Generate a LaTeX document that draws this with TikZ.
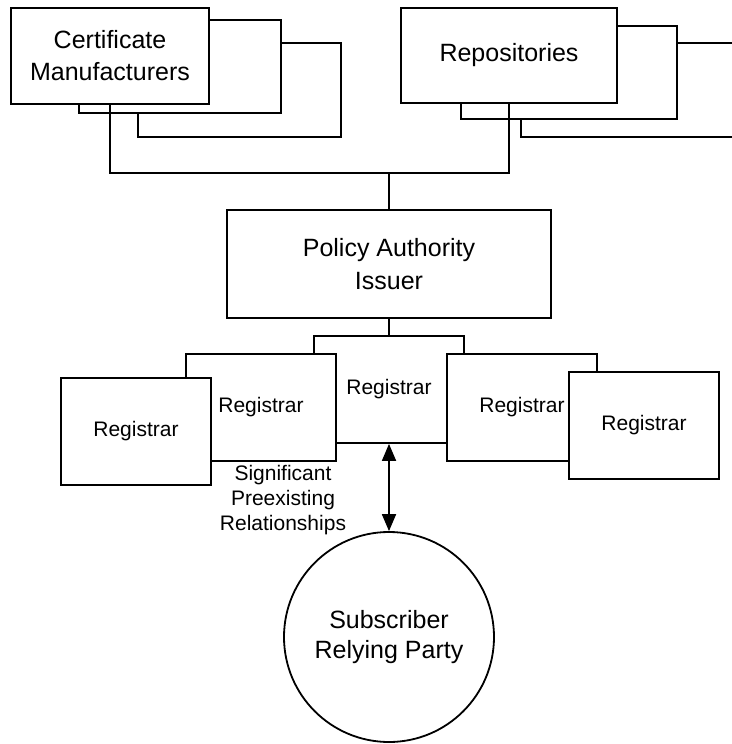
\documentclass[tikz,border=0pt]{standalone}
\usepackage{fontspec}
\setmainfont{Liberation Sans}
\usetikzlibrary{arrows.meta}
\begin{document}
\begin{tikzpicture}[x=1pt,y=-1pt,line width=1.8pt,
  >={Triangle[length=17pt,width=14pt]},
  box/.style={draw,fill=white,inner sep=0pt},
  bigtext/.style={font=\fontsize{25}{32}\selectfont,align=center},
  regbox/.style={box,minimum width=150pt,minimum height=107pt,font=\fontsize{21}{25}\selectfont}]
  \useasboundingbox (0,0) rectangle (731,744);
  \node[box,minimum width=203pt,minimum height=94pt] (cm3) at (239.5,90) {};
  \node[box,minimum width=202pt,minimum height=93pt] (cm2) at (180,66.5) {};
  \node[box,bigtext,minimum width=198pt,minimum height=96pt] (cm) at (110,56) {Certificate\\Manufacturers};
  \node[box,minimum width=216pt,minimum height=94pt] (rep3) at (629,90) {};
  \node[box,minimum width=216pt,minimum height=93pt] (rep2) at (569,72.5) {};
  \node[box,bigtext,minimum width=216pt,minimum height=95pt] (rep) at (509,55.5) {Repositories};
  \node[box,bigtext,font=\fontsize{25}{33}\selectfont,minimum width=324pt,minimum height=108pt] (pa) at (389,264) {Policy Authority\\Issuer};
  \coordinate (bus) at (389,173);
  \draw (cm.south) |- (bus) -| (rep.south);
  \draw (bus) -- (pa.north);
  \node[regbox] (reg3) at (389,389.5) {Registrar};
  \node[regbox] (reg2) at (261,407.5) {Registrar};
  \node[regbox] (reg4) at (522,407.5) {Registrar};
  \node[regbox] (reg1) at (136,431.5) {Registrar};
  \node[regbox] (reg5) at (644,425.5) {Registrar};
  \draw (pa.south) -- (reg3.north);
  \node[draw,circle,inner sep=0pt,minimum size=210pt,bigtext,font=\fontsize{25}{30}\selectfont] (sub) at (389,637) {Subscriber\\Relying Party};
  \draw[<->] (reg3.south) -- (sub.north);
  \node[align=center,font=\fontsize{21}{25}\selectfont] (rel) at (283,500) {Significant\\Preexisting\\Relationships};
\end{tikzpicture}
\end{document}
